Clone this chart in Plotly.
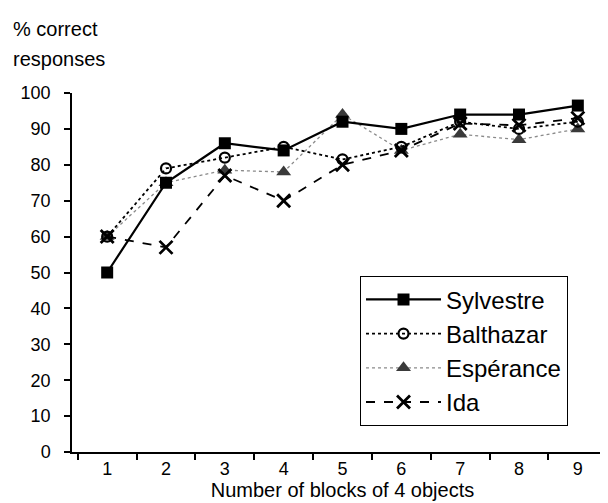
import plotly.graph_objects as go

categories = ["1", "2", "3", "4", "5", "6", "7", "8", "9"]
sylvestre = [50, 75, 86, 84, 92, 90, 94, 94, 96.5]
balthazar = [60, 79, 82, 85, 81.5, 85, 92, 90, 92]
esperance = [60, 75, 78.5, 78, 94, 84, 88.5, 87, 90]
ida = [60, 57, 77, 70, 80, 84, 91.5, 91, 93]
y_ticks = [0, 10, 20, 30, 40, 50, 60, 70, 80, 90, 100]

FONT = "Liberation Sans, Arial, Helvetica, sans-serif"

fig = go.Figure()
fig.add_trace(go.Scatter(
    x=categories, y=esperance, name="Espérance", legendgroup="c", legendrank=3,
    mode="lines+markers",
    line=dict(color="#8a8a8a", width=1.3, dash="dot"),
    marker=dict(symbol="triangle-up", size=13, color="#3a3a3a", line=dict(width=0))))
fig.add_trace(go.Scatter(
    x=categories, y=balthazar, name="Balthazar", legendgroup="b", legendrank=2,
    mode="lines+markers",
    line=dict(color="black", width=1.8, dash="dot"),
    marker=dict(symbol="circle-open", size=10, color="black", line=dict(width=2.2))))
fig.add_trace(go.Scatter(
    x=categories, y=ida, name="Ida", legendgroup="d", legendrank=4,
    mode="lines+markers",
    line=dict(color="black", width=1.8, dash="dash"),
    marker=dict(symbol="x-thin-open", size=13, color="black", line=dict(width=2.8))))
fig.add_trace(go.Scatter(
    x=categories, y=sylvestre, name="Sylvestre", legendgroup="a", legendrank=1,
    mode="lines+markers",
    line=dict(color="black", width=2.2),
    marker=dict(symbol="square", size=12, color="black")))

fig.update_layout(
    width=608, height=503,
    margin=dict(l=64, r=3, t=85, b=59),
    paper_bgcolor="white", plot_bgcolor="white",
    font=dict(family=FONT, color="black", size=18),
    legend=dict(
        x=0.532, y=0.49, xanchor="left", yanchor="top",
        bordercolor="black", borderwidth=1.2, bgcolor="white",
        font=dict(size=24, family=FONT),
        itemwidth=75,
        tracegroupgap=0, traceorder="grouped"),
    xaxis=dict(
        type="category", tickson="boundaries",
        showline=True, linecolor="black", linewidth=1.5,
        ticks="outside", ticklen=6, tickwidth=1.5, tickcolor="black",
        showgrid=False, zeroline=False,
        tickfont=dict(size=18),
        title=dict(text="Number of blocks of 4 objects", font=dict(size=20), standoff=4)),
    yaxis=dict(
        range=[0, 100], tickvals=y_ticks,
        showline=True, linecolor="black", linewidth=1.5,
        ticks="outside", ticklen=6, tickwidth=1.5, tickcolor="black",
        showgrid=False, zeroline=False,
        ticklabelstandoff=10,
        tickfont=dict(size=18)),
    annotations=[
        dict(text="% correct", xref="paper", yref="paper", x=-0.113, y=1.178,
             xanchor="left", yanchor="middle", showarrow=False, font=dict(size=20)),
        dict(text="responses", xref="paper", yref="paper", x=-0.113, y=1.095,
             xanchor="left", yanchor="middle", showarrow=False, font=dict(size=20)),
    ],
)

fig.write_html("out.html")
